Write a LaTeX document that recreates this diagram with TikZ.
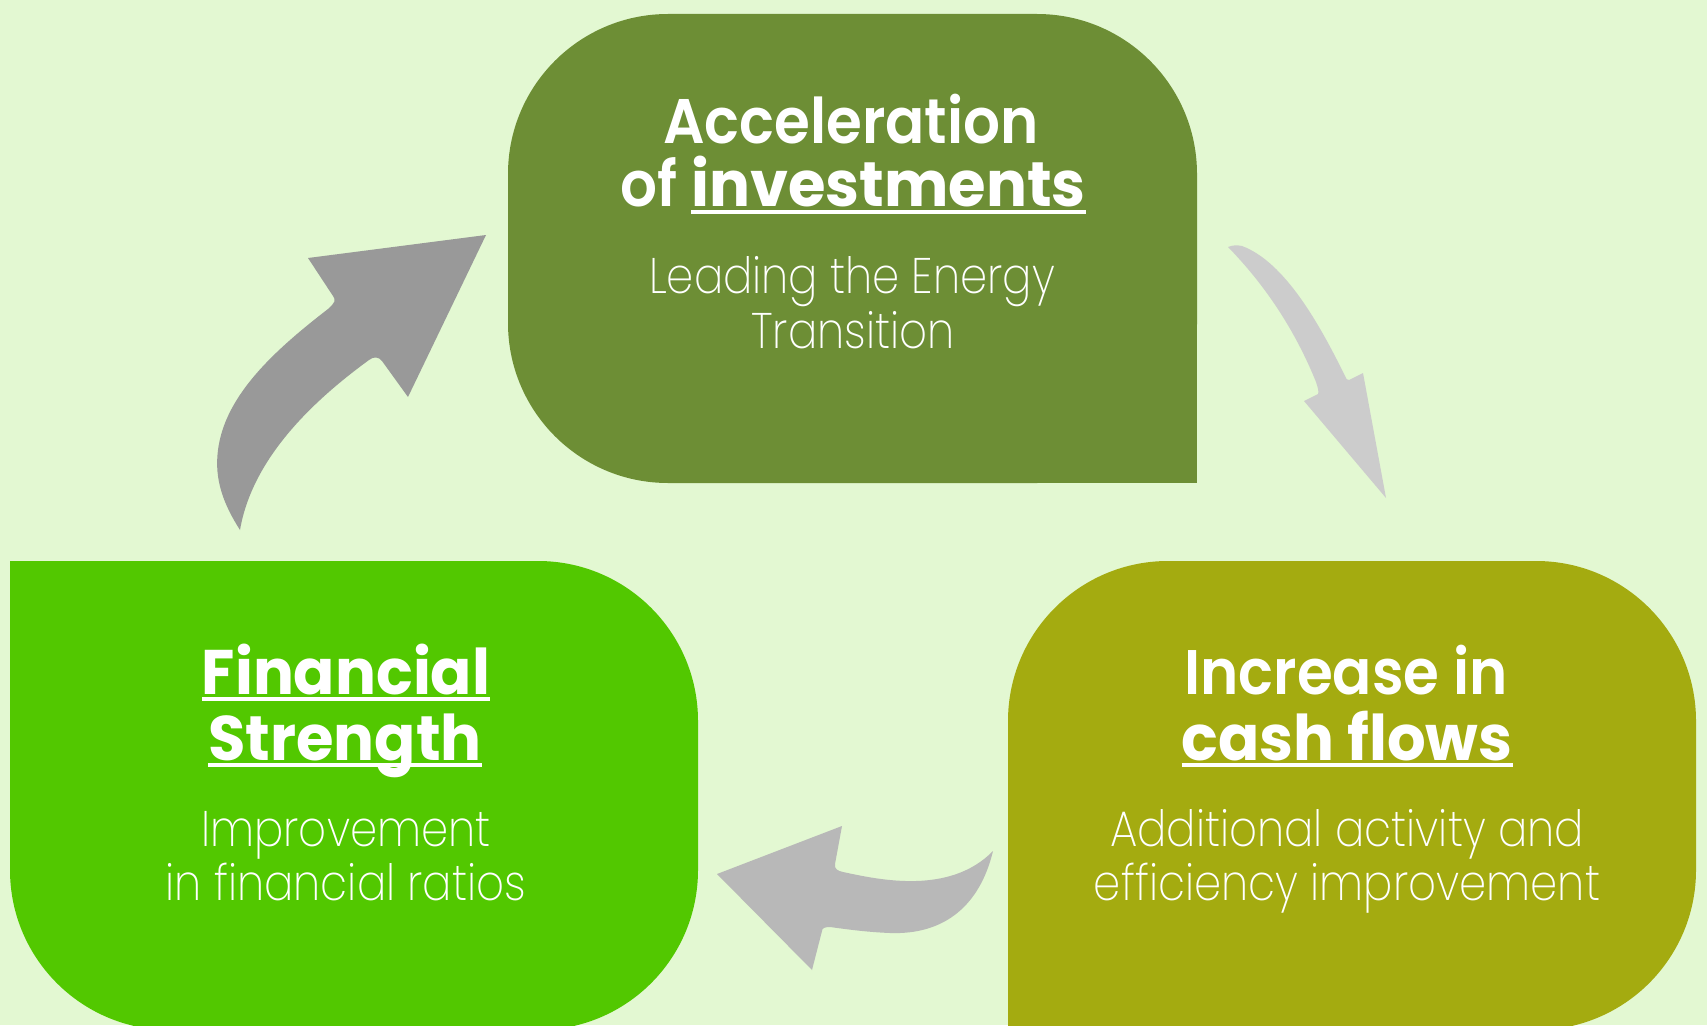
\documentclass[tikz,border=0pt]{standalone}
\usepackage{fontspec}
\setmainfont{Poppins}
\newfontfamily\headfont{Poppins SemiBold}[FakeStretch=0.92]
\newfontfamily\headulfont{Poppins Bold}[FakeStretch=0.965]
\newfontfamily\lightfont{Poppins ExtraLight}[FakeStretch=0.87]
\definecolor{bg}{RGB}{227,248,210}
\definecolor{topc}{RGB}{109,142,53}
\definecolor{leftc}{RGB}{82,200,0}
\definecolor{rightc}{RGB}{164,171,16}
\definecolor{arrA}{RGB}{153,153,153}
\definecolor{arrB}{RGB}{204,204,204}
\definecolor{arrC}{RGB}{184,184,184}
\newcommand\ulx[1]{\setbox0\hbox{\headulfont #1}\rlap{\rule[-6.8pt]{\wd0}{3.5pt}}\box0}
\tikzset{
  head/.style={anchor=base, inner sep=0pt, text=white, font=\fontsize{63}{64}\selectfont\headfont},
  sub/.style={anchor=base, inner sep=0pt, text=white, font=\fontsize{50}{52}\selectfont\lightfont},
  roundbox/.style={rounded corners=160pt},
}
\begin{document}
\begin{tikzpicture}[x=1pt,y=-1pt]
\useasboundingbox (0,0) rectangle (1707,1025);
\clip (0,0) rectangle (1707,1025);
\fill[bg] (0,0) rectangle (1707,1025);
% boxes
\fill[topc, roundbox] (508,14) rectangle (1197,483);
\fill[topc] (1000,300) rectangle (1197,483);
\fill[leftc, roundbox] (10,561) rectangle (698,1030);
\fill[leftc] (10,561) rectangle (200,760);
\fill[rightc, roundbox] (1008,561) rectangle (1696,1030);
\fill[rightc] (1008,850) rectangle (1200,1030);
% arrows
\fill[arrA] (486,235) -- (408,397) -- (382,361) .. controls (379,357) and (374,356) .. (369,360)
  .. controls (310,403) and (252,460) .. (240,530)
  .. controls (224,505) and (214,480) .. (218,450)
  .. controls (225,395) and (275,350) .. (328,309)
  .. controls (335,303) and (336,300) .. (333,296) -- (308,258) -- cycle;
\fill[arrB] (1228,247) .. controls (1233,245) and (1237,245) .. (1242,246)
  .. controls (1285,262) and (1320,325) .. (1345,376)
  .. controls (1346,379) and (1347,380) .. (1349,380) -- (1363,373) -- (1386,498) -- (1304,401) -- (1318,394)
  .. controls (1319,392) and (1318,388) .. (1316,382)
  .. controls (1295,330) and (1265,285) .. (1228,247) -- cycle;
\fill[arrC] (717,874) -- (842,826) -- (835,864) .. controls (834,869) and (838,871) .. (843,872)
  .. controls (880,880) and (950,895) .. (993,851)
  .. controls (980,905) and (945,935) .. (890,933)
  .. controls (865,932) and (845,929) .. (830,927)
  .. controls (825,927) and (822,928) .. (822,931) -- (812,970) -- cycle;
% texts
\node[head] (t1) at (851,143) {Acceleration};
\node[head] (t2) at (853,206.7) {of \ulx{investments}};
\node[sub]  (t3) at (852,293.3) {Leading the Energy};
\node[sub]  (t4) at (853,348.3) {Transition};
\node[head] (l1) at (346,694) {\ulx{Financial}};
\node[head] (l2) at (345,760) {\ulx{Strength}};
\node[sub]  (l3) at (346,846) {Improvement};
\node[sub]  (l4) at (346,900) {in financial ratios};
\node[head] (r1) at (1346,694) {Increase in};
\node[head] (r2) at (1347,760) {\ulx{cash flows}};
\node[sub]  (r3) at (1347,846) {Additional activity and};
\node[sub]  (r4) at (1347,900) {efficiency improvement};
\end{tikzpicture}
\end{document}
